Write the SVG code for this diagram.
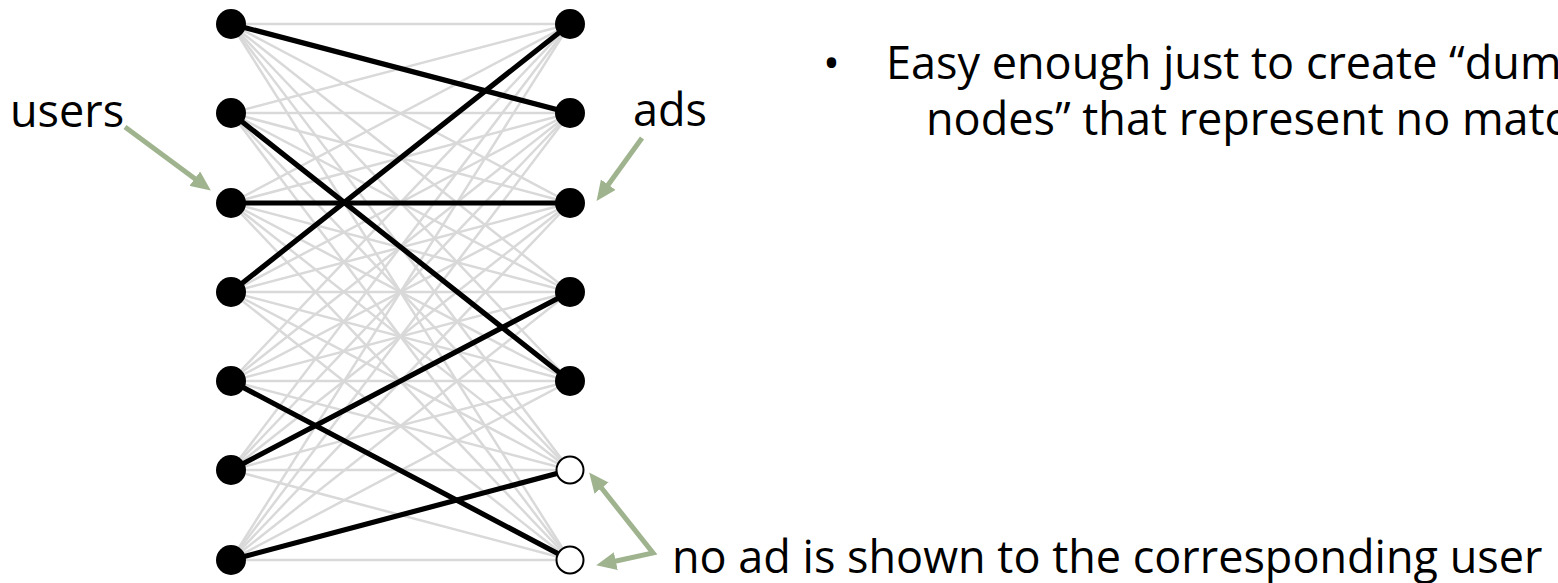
<svg xmlns="http://www.w3.org/2000/svg" width="1558" height="583" viewBox="0 0 1558 583">
<style>
.g{stroke:#d9d9d9;stroke-width:2.5;fill:none}
.m{stroke:#000;stroke-width:5.2;fill:none;stroke-linecap:round}
.n{fill:#000}
.h{fill:#fff;stroke:#000;stroke-width:2}
.a{stroke:#9fb48e;stroke-width:5;fill:none;stroke-linejoin:miter}
.t{font-family:"Open Sans","Noto Sans",sans-serif;font-size:45px;fill:#000}
</style>
<defs>
<marker id="ah" viewBox="0 0 20 18" refX="9" refY="9" markerWidth="20" markerHeight="18" markerUnits="userSpaceOnUse" orient="auto-start-reverse">
<path d="M0,0 L20,9 L0,18 z" fill="#9fb48e"/>
</marker>
</defs>
<g id="edges-all">
<line class="g" x1="231" y1="24" x2="570" y2="24"/><line class="g" x1="231" y1="24" x2="570" y2="113"/><line class="g" x1="231" y1="24" x2="570" y2="203"/><line class="g" x1="231" y1="24" x2="570" y2="292"/><line class="g" x1="231" y1="24" x2="570" y2="381"/><line class="g" x1="231" y1="24" x2="570" y2="470"/><line class="g" x1="231" y1="24" x2="570" y2="560"/>
<line class="g" x1="231" y1="113" x2="570" y2="24"/><line class="g" x1="231" y1="113" x2="570" y2="113"/><line class="g" x1="231" y1="113" x2="570" y2="203"/><line class="g" x1="231" y1="113" x2="570" y2="292"/><line class="g" x1="231" y1="113" x2="570" y2="381"/><line class="g" x1="231" y1="113" x2="570" y2="470"/><line class="g" x1="231" y1="113" x2="570" y2="560"/>
<line class="g" x1="231" y1="203" x2="570" y2="24"/><line class="g" x1="231" y1="203" x2="570" y2="113"/><line class="g" x1="231" y1="203" x2="570" y2="203"/><line class="g" x1="231" y1="203" x2="570" y2="292"/><line class="g" x1="231" y1="203" x2="570" y2="381"/><line class="g" x1="231" y1="203" x2="570" y2="470"/><line class="g" x1="231" y1="203" x2="570" y2="560"/>
<line class="g" x1="231" y1="292" x2="570" y2="24"/><line class="g" x1="231" y1="292" x2="570" y2="113"/><line class="g" x1="231" y1="292" x2="570" y2="203"/><line class="g" x1="231" y1="292" x2="570" y2="292"/><line class="g" x1="231" y1="292" x2="570" y2="381"/><line class="g" x1="231" y1="292" x2="570" y2="470"/><line class="g" x1="231" y1="292" x2="570" y2="560"/>
<line class="g" x1="231" y1="381" x2="570" y2="24"/><line class="g" x1="231" y1="381" x2="570" y2="113"/><line class="g" x1="231" y1="381" x2="570" y2="203"/><line class="g" x1="231" y1="381" x2="570" y2="292"/><line class="g" x1="231" y1="381" x2="570" y2="381"/><line class="g" x1="231" y1="381" x2="570" y2="470"/><line class="g" x1="231" y1="381" x2="570" y2="560"/>
<line class="g" x1="231" y1="470" x2="570" y2="24"/><line class="g" x1="231" y1="470" x2="570" y2="113"/><line class="g" x1="231" y1="470" x2="570" y2="203"/><line class="g" x1="231" y1="470" x2="570" y2="292"/><line class="g" x1="231" y1="470" x2="570" y2="381"/><line class="g" x1="231" y1="470" x2="570" y2="470"/><line class="g" x1="231" y1="470" x2="570" y2="560"/>
<line class="g" x1="231" y1="560" x2="570" y2="24"/><line class="g" x1="231" y1="560" x2="570" y2="113"/><line class="g" x1="231" y1="560" x2="570" y2="203"/><line class="g" x1="231" y1="560" x2="570" y2="292"/><line class="g" x1="231" y1="560" x2="570" y2="381"/><line class="g" x1="231" y1="560" x2="570" y2="470"/><line class="g" x1="231" y1="560" x2="570" y2="560"/>
</g>
<g id="edges-matching">
<line class="m" x1="231" y1="24" x2="570" y2="113"/>
<line class="m" x1="231" y1="113" x2="570" y2="381"/>
<line class="m" x1="231" y1="203" x2="570" y2="203"/>
<line class="m" x1="231" y1="292" x2="570" y2="24"/>
<line class="m" x1="231" y1="381" x2="570" y2="560"/>
<line class="m" x1="231" y1="470" x2="570" y2="292"/>
<line class="m" x1="231" y1="560" x2="570" y2="470"/>
</g>
<g id="user-0"><circle class="n" cx="231" cy="24" r="15"/></g>
<g id="user-1"><circle class="n" cx="231" cy="113" r="15"/></g>
<g id="user-2"><circle class="n" cx="231" cy="203" r="15"/></g>
<g id="user-3"><circle class="n" cx="231" cy="292" r="15"/></g>
<g id="user-4"><circle class="n" cx="231" cy="381" r="15"/></g>
<g id="user-5"><circle class="n" cx="231" cy="470" r="15"/></g>
<g id="user-6"><circle class="n" cx="231" cy="560" r="15"/></g>
<g id="ad-0"><circle class="n" cx="570" cy="24" r="15"/></g>
<g id="ad-1"><circle class="n" cx="570" cy="113" r="15"/></g>
<g id="ad-2"><circle class="n" cx="570" cy="203" r="15"/></g>
<g id="ad-3"><circle class="n" cx="570" cy="292" r="15"/></g>
<g id="ad-4"><circle class="n" cx="570" cy="381" r="15"/></g>
<g id="ad-dummy-0"><circle class="h" cx="570" cy="470" r="13.5"/></g>
<g id="ad-dummy-1"><circle class="h" cx="570" cy="560" r="13.5"/></g>
<g id="annotations">
<text class="t" x="10" y="127">users</text>
<line class="a" x1="125" y1="127" x2="202" y2="184" marker-end="url(#ah)"/>
<text class="t" x="633" y="126">ads</text>
<line class="a" x1="642" y1="138" x2="603" y2="192" marker-end="url(#ah)"/>
<polyline class="a" points="596,481 653,553 607,563" marker-start="url(#ah)" marker-end="url(#ah)"/>
<text class="t" x="672" y="573">no ad is shown to the corresponding user</text>
</g>
<g id="bullet">
<text class="t" x="823" y="79">•</text>
<text class="t" x="886" y="79">Easy enough just to create “dummy</text>
<text class="t" x="926" y="135">nodes” that represent no match</text>
</g>
</svg>
